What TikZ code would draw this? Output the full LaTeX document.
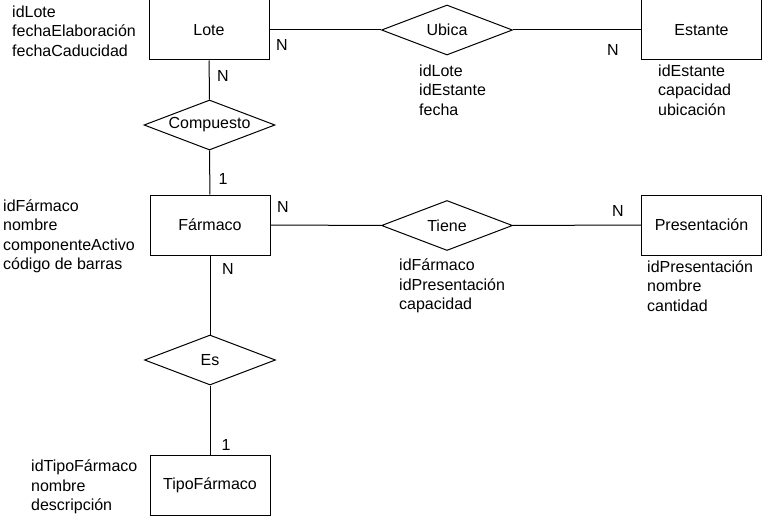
\documentclass[tikz,border=0pt]{standalone}
\usepackage{fontspec}
\setmainfont{Liberation Sans}
\usetikzlibrary{shapes.geometric}
\begin{document}
\begin{tikzpicture}[x=1pt,y=-1pt,
    entidad/.style={draw,line width=1pt,minimum width=120pt,minimum height=60pt,inner sep=0pt},
    relacion/.style={draw,diamond,line width=1pt,aspect=2.6,minimum width=131pt,minimum height=50pt,inner sep=0pt},
    atributos/.style={anchor=west,align=left,inner sep=0pt},
    card/.style={inner sep=0pt},
    font=\fontsize{16}{19.5}\selectfont]
  \useasboundingbox (0,0) rectangle (766,516);
  \node[entidad] (lote) at (209,30) {Lote};
  \node[entidad] (estante) at (701.5,30) {Estante};
  \node[entidad] (farmaco) at (210,225) {Fármaco};
  \node[entidad] (presentacion) at (701.5,225) {Presentación};
  \node[entidad] (tipo) at (210,485) {TipoFármaco};
  \node[relacion] (ubica) at (447,30) {Ubica};
  \node[relacion] (compuesto) at (209.5,125) {Compuesto};
  \node[relacion] (tiene) at (447,225.5) {Tiene};
  \node[relacion] (es) at (210,360) {Es};
  % atributos
  \node[atributos] (atlote) at (12,31) {idLote\\fechaElaboración\\fechaCaducidad};
  \node[atributos] (atubica) at (419,90) {idLote\\idEstante\\fecha};
  \node[atributos] (atestante) at (658,90) {idEstante\\capacidad\\ubicación};
  \node[atributos] (atfarmaco) at (3,236.5) {idFármaco\\nombre\\componenteActivo\\código de barras};
  \node[atributos] (attiene) at (399,286) {idFármaco\\idPresentación\\capacidad};
  \node[atributos] (atpresentacion) at (647,286) {idPresentación\\nombre\\cantidad};
  \node[atributos] (attipo) at (31,487) {idTipoFármaco\\nombre\\descripción};
  % cardinalidades
  \node[card] (c1) at (282,45) {N};
  \node[card] (c2) at (613,50) {N};
  \node[card] (c3) at (223,76) {N};
  \node[card] (c4) at (223,179) {1};
  \node[card] (c5) at (283,207) {N};
  \node[card] (c6) at (618,211) {N};
  \node[card] (c7) at (228,269) {N};
  \node[card] (c8) at (226,445) {1};
  \begin{scope}[line width=1pt]
    \draw (lote) to (ubica);
    \draw (ubica) to (estante);
    \draw (lote) to (compuesto);
    \draw (compuesto) to (farmaco);
    \draw (farmaco) to (tiene);
    \draw (tiene) to (presentacion);
    \draw (farmaco) to (es);
    \draw (es) to (tipo);
  \end{scope}
\end{tikzpicture}
\end{document}
